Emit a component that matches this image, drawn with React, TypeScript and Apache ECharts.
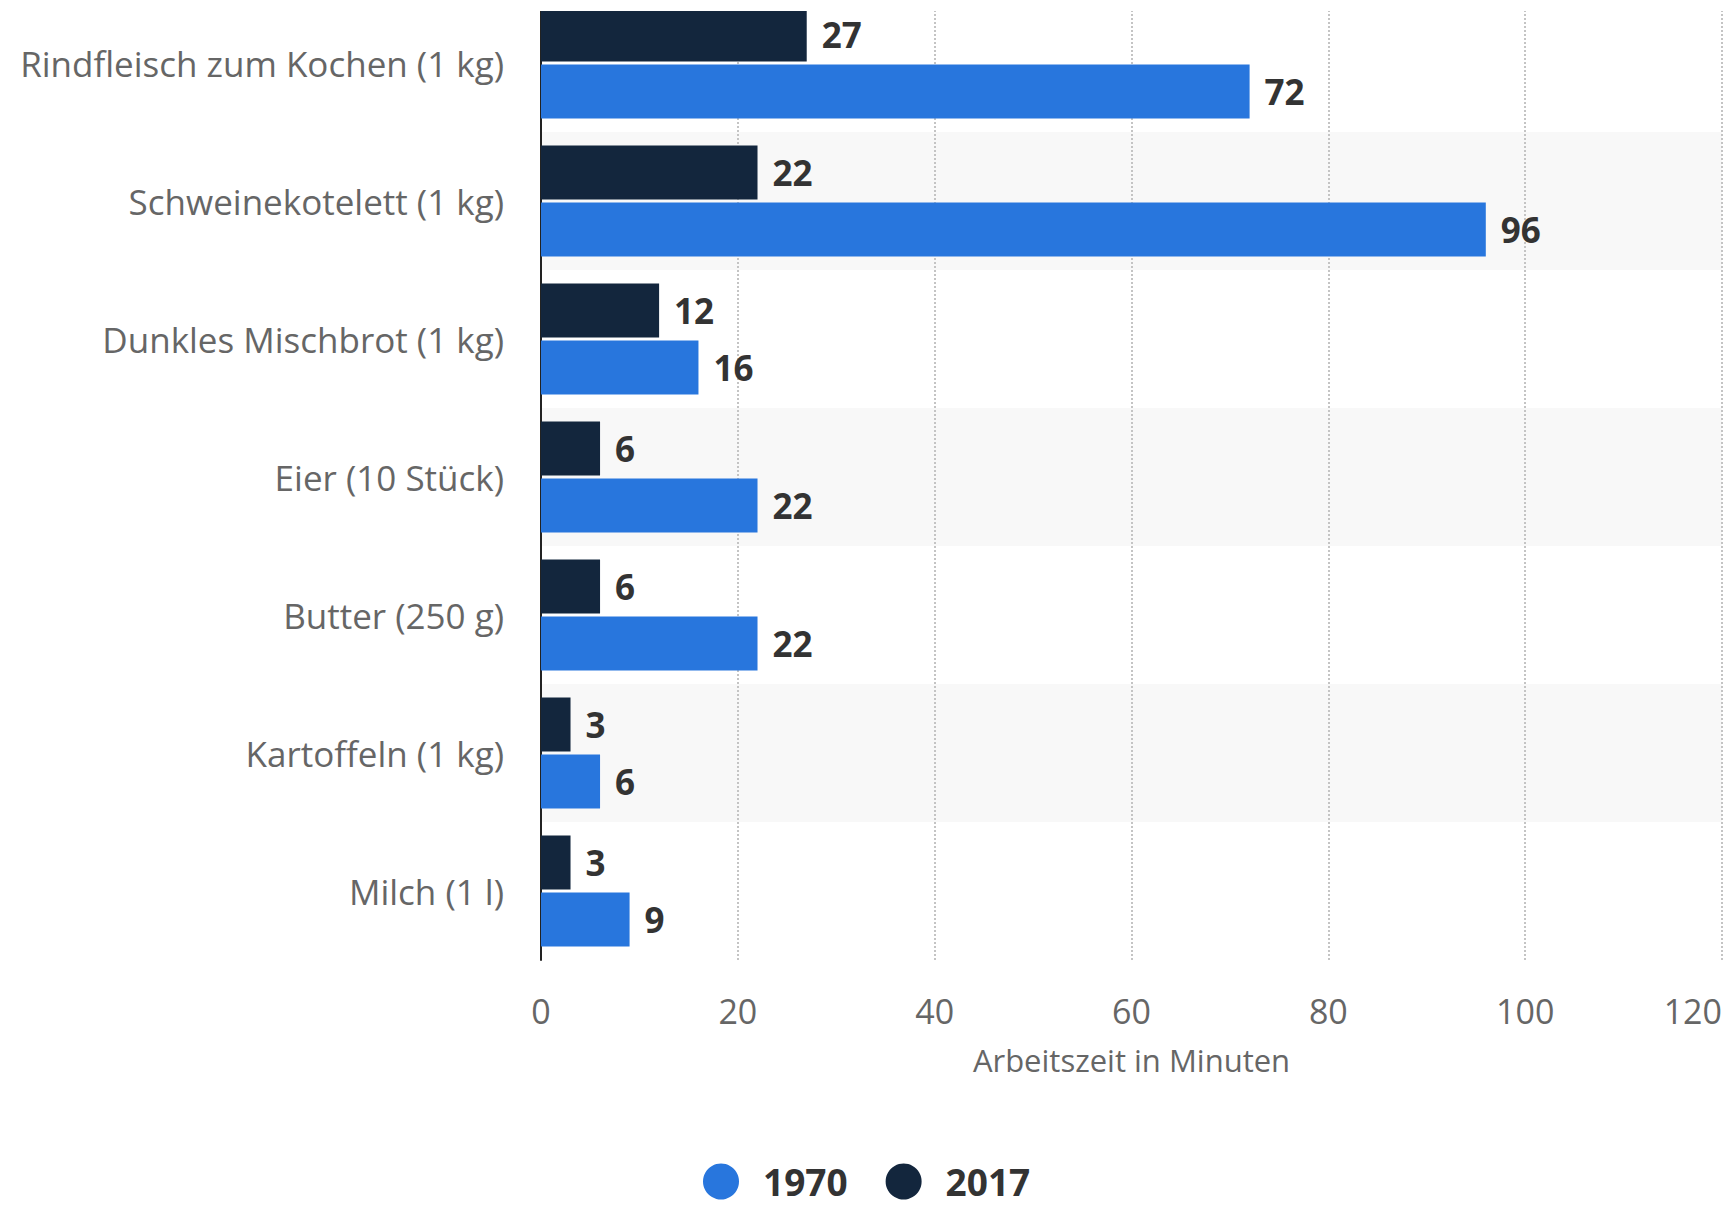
import React, { useEffect, useRef } from "react";
import * as echarts from "echarts";

const categories = [
  "Rindfleisch zum Kochen (1 kg)",
  "Schweinekotelett (1 kg)",
  "Dunkles Mischbrot (1 kg)",
  "Eier (10 Stück)",
  "Butter (250 g)",
  "Kartoffeln (1 kg)",
  "Milch (1 l)",
];
const values1970 = [72, 96, 16, 22, 22, 6, 9];
const values2017 = [27, 22, 12, 6, 6, 3, 3];
const xTicks = [0, 20, 40, 60, 80, 100, 120];
const axisName = "Arbeitszeit in Minuten";

const FONT = "'Open Sans', sans-serif";
const SHIFT = 6; // chart canvas starts 6px above the page top

export default function App() {
  const ref = useRef<HTMLDivElement>(null);
  useEffect(() => {
    if (!ref.current) return;
    const chart = echarts.init(ref.current, undefined, { renderer: "svg" });
    const label = {
      show: true,
      position: "right",
      distance: 15,
      fontFamily: FONT,
      fontSize: 35,
      fontWeight: 700,
      color: "#333333",
    };
    chart.setOption({
      animation: false,
      backgroundColor: "#ffffff",
      grid: { left: 541, right: 7, top: 0, bottom: 246, containLabel: false },
      legend: {
        data: ["1970", "2017"],
        left: 703,
        top: 1163 + SHIFT,
        padding: 0,
        icon: "circle",
        itemWidth: 36,
        itemHeight: 36,
        itemGap: 38,
        textStyle: {
          fontFamily: FONT,
          fontSize: 37,
          lineHeight: 34,
          fontWeight: 700,
          color: "#333333",
          padding: [0, 0, 0, 19],
        },
      },
      xAxis: {
        type: "value",
        min: xTicks[0],
        max: xTicks[xTicks.length - 1],
        interval: xTicks[1] - xTicks[0],
        axisLine: { show: false },
        axisTick: { show: false },
        splitLine: {
          show: true,
          lineStyle: { color: "#c4c4c4", width: 2, type: [2, 2] },
        },
        axisLabel: {
          margin: 34,
          fontFamily: FONT,
          fontSize: 34,
          color: "#666666",
          alignMaxLabel: "right",
        },
        name: axisName,
        nameLocation: "middle",
        nameGap: 84,
        nameTextStyle: { fontFamily: FONT, fontSize: 31, color: "#666666" },
      },
      yAxis: {
        type: "category",
        data: categories,
        inverse: true,
        axisLine: { show: true, lineStyle: { color: "#222222", width: 2 } },
        axisTick: { show: false },
        splitLine: { show: false },
        splitArea: {
          show: true,
          areaStyle: { color: ["rgba(255,255,255,0)", "#f8f8f8"] },
        },
        axisLabel: {
          margin: 37,
          fontFamily: FONT,
          fontSize: 35,
          color: "#666666",
        },
      },
      series: [
        {
          name: "2017",
          type: "bar",
          data: values2017,
          barWidth: 54,
          barGap: "6%",
          itemStyle: { color: "#13263d" },
          label,
        },
        {
          name: "1970",
          type: "bar",
          data: values1970,
          barWidth: 54,
          barGap: "6%",
          itemStyle: { color: "#2876dd" },
          label,
        },
      ],
      graphic: [
        {
          type: "rect",
          z: 100,
          shape: { x: 0, y: 0, width: 1729, height: 11 + SHIFT },
          style: { fill: "#ffffff" },
        },
      ],
    });
    return () => chart.dispose();
  }, []);
  return (
    <div
      ref={ref}
      style={{
        position: "fixed",
        left: 0,
        top: -SHIFT,
        width: 1729,
        height: 1206 + SHIFT,
      }}
    />
  );
}
